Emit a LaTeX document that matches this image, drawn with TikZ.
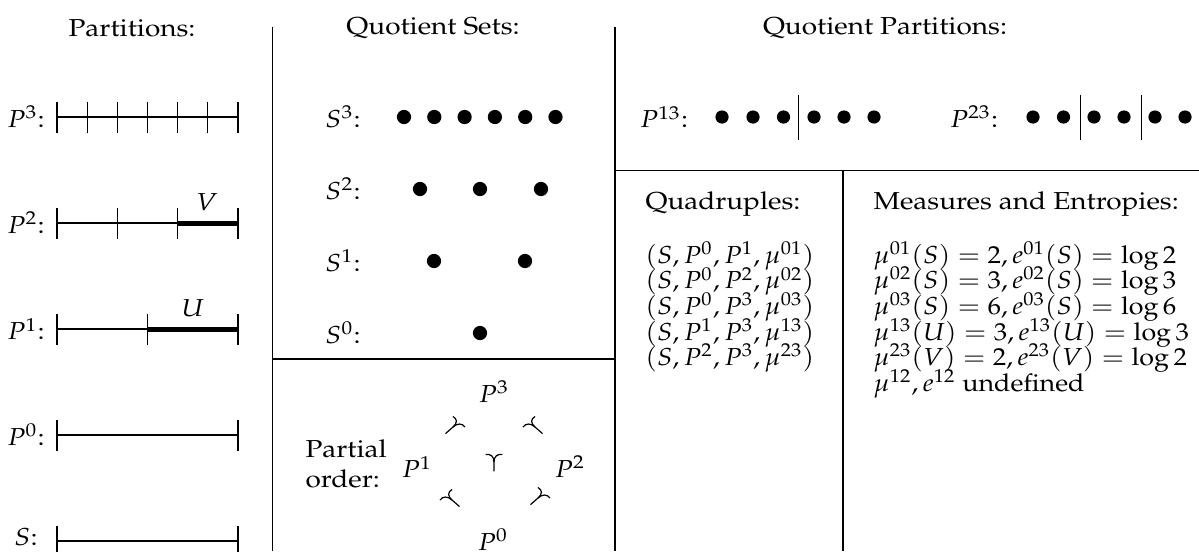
\documentclass[tikz,border=0pt]{standalone}
\usepackage[T1]{fontenc}
\usepackage{mathpazo}
\begin{document}
\begin{tikzpicture}[x=0.379pt, y=-0.379pt, line width=0.4pt,
    every node/.style={xscale=1.06, yscale=0.93},
    heavy/.style={line width=1.9pt},
    qdot/.style={fill=black},
    lft/.style={anchor=west, inner sep=0pt},
    mrow/.style={lft, xscale=0.96},
    ups/.pic={
      \draw[line width=0.45pt] (0,10) -- (0,0)
        .. controls (0,-6) and (-3,-9) .. (-8,-8);
      \draw[line width=0.45pt] (0,0)
        .. controls (0,-6) and (3,-9) .. (8,-8);
    }]
\useasboundingbox (0,0) rectangle (1199,551);

% frames
\draw (272.5,27) -- (272.5,551);
\draw (615,27) -- (615,551);
\draw (272.5,359) -- (615,359);
\draw (615,170.5) -- (1199,170.5);
\draw (843,170.5) -- (843,551);

% Partitions
\node (ttlpart) at (132,28) {Partitions:};
\node (lblp3) at (26,117) {$P^3$:};
\node (lblp2) at (26,223) {$P^2$:};
\node (lblp1) at (26,329) {$P^1$:};
\node (lblp0) at (26,435) {$P^0$:};
\node (lbls) at (26,537) {$S$:};
\draw (57,117) -- (238,117);
\draw (57,102) -- (57,133) (87.2,102) -- (87.2,133) (117.3,102) -- (117.3,133)
      (147.5,102) -- (147.5,133) (177.7,102) -- (177.7,133) (207.8,102) -- (207.8,133)
      (238,102) -- (238,133);
\draw (57,223) -- (177.7,223);
\draw[heavy] (177.7,223) -- (238,223);
\draw (57,208) -- (57,239) (117.3,208) -- (117.3,239) (177.7,208) -- (177.7,239)
      (238,208) -- (238,239);
\node (lblv) at (207,202) {$V$};
\draw (57,329) -- (147.5,329);
\draw[heavy] (147.5,329) -- (238,329);
\draw (57,314) -- (57,345) (147.5,314) -- (147.5,345) (238,314) -- (238,345);
\node (lblu) at (193,308) {$U$};
\draw (57,435) -- (238,435);
\draw (57,420) -- (57,451) (238,420) -- (238,451);
\draw (57,541) -- (238,541);
\draw (57,526) -- (57,557) (238,526) -- (238,557);

% Quotient Sets
\node (ttlqset) at (433,28) {Quotient Sets:};
\node (lbls3) at (343,117) {$S^3$:};
\node (lbls2) at (343,189) {$S^2$:};
\node (lbls1) at (343,261) {$S^1$:};
\node (lbls0) at (343,333) {$S^0$:};
\fill[qdot] (404,117) circle[radius=2.7pt] (434.3,117) circle[radius=2.7pt]
      (464.6,117) circle[radius=2.7pt] (494.9,117) circle[radius=2.7pt]
      (525.2,117) circle[radius=2.7pt] (555.5,117) circle[radius=2.7pt];
\fill[qdot] (420,189) circle[radius=2.7pt] (480,189) circle[radius=2.7pt]
      (541,189) circle[radius=2.7pt];
\fill[qdot] (434,261) circle[radius=2.7pt] (525,261) circle[radius=2.7pt];
\fill[qdot] (480,333) circle[radius=2.7pt];

% Partial order
\node[lft, align=left] (lblord) at (305,464) {Partial\\order:};
\node (ordp3) at (494,392) {$P^3$};
\node (ordp1) at (417,467) {$P^1$};
\node (ordp2) at (570,467) {$P^2$};
\node (ordp0) at (493,540) {$P^0$};
\pic[rotate=-45] at (453,427) {ups};
\pic[rotate=45] at (535,427) {ups};
\pic at (494,462) {ups};
\pic[rotate=45] at (452,500) {ups};
\pic[rotate=-45] at (538,498) {ups};

% Quotient Partitions
\node (ttlqpart) at (885,28) {Quotient Partitions:};
\node (lblp13) at (664,117) {$P^{13}$:};
\fill[qdot] (722,117) circle[radius=2.5pt] (753,117) circle[radius=2.5pt]
      (783.5,117) circle[radius=2.5pt] (814,117) circle[radius=2.5pt]
      (844,117) circle[radius=2.5pt] (874,117) circle[radius=2.5pt];
\draw (798.8,95) -- (798.8,140);
\node (lblp23) at (974,117) {$P^{23}$:};
\fill[qdot] (1033,117) circle[radius=2.5pt] (1063.5,117) circle[radius=2.5pt]
      (1094,117) circle[radius=2.5pt] (1124,117) circle[radius=2.5pt]
      (1155,117) circle[radius=2.5pt] (1185,117) circle[radius=2.5pt];
\draw (1080.8,95) -- (1080.8,140) (1141.5,95) -- (1141.5,140);

% Quadruples
\node[lft] (ttlquad) at (645,204) {Quadruples:};
\node[mrow] (quad1) at (645,256) {$(S,P^0,P^1,\mu^{01})$};
\node[mrow] (quad2) at (645,281.5) {$(S,P^0,P^2,\mu^{02})$};
\node[mrow] (quad3) at (645,307) {$(S,P^0,P^3,\mu^{03})$};
\node[mrow] (quad4) at (645,332.5) {$(S,P^1,P^3,\mu^{13})$};
\node[mrow] (quad5) at (645,358) {$(S,P^2,P^3,\mu^{23})$};

% Measures and Entropies
\node[lft] (ttlmeas) at (873,204) {Measures and Entropies:};
\node[mrow] (meas1) at (873,256) {$\mu^{01}(S)=2, e^{01}(S)=\log 2$};
\node[mrow] (meas2) at (873,281.5) {$\mu^{02}(S)=3, e^{02}(S)=\log 3$};
\node[mrow] (meas3) at (873,307) {$\mu^{03}(S)=6, e^{03}(S)=\log 6$};
\node[mrow] (meas4) at (873,332.5) {$\mu^{13}(U)=3, e^{13}(U)=\log 3$};
\node[mrow] (meas5) at (873,358) {$\mu^{23}(V)=2, e^{23}(V)=\log 2$};
\node[mrow] (meas6) at (873,383.5) {$\mu^{12}, e^{12}$ undefined};
\end{tikzpicture}
\end{document}
